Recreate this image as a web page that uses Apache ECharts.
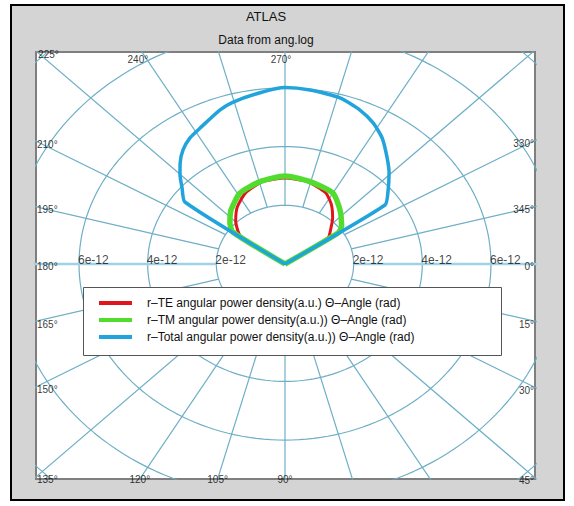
<!DOCTYPE html>
<html><head><meta charset="utf-8">
<script src="https://cdn.jsdelivr.net/npm/echarts@6/dist/echarts.min.js"></script>
<style>html,body{margin:0;padding:0;background:#fff;}#c{width:574px;height:506px;}</style>
</head><body><div id="c"></div>
<script>
// ---- data (angle in degrees, 0° right, 90° down; radius in a.u.) ----
const seriesNames = [
  'r–TE angular power density(a.u.) Θ–Angle (rad)',
  'r–TM angular power density(a.u.)) Θ–Angle (rad)',
  'r–Total angular power density(a.u.)) Θ–Angle (rad)'
];
const thetaTE = [180, 215.7, 225.8, 234.2, 244.6, 256.8, 270, 283.2, 296.0, 303.3, 311.1, 316.9, 324.7, 360];
const rTE     = [0, 1.58e-12, 2.06e-12, 2.38e-12, 2.68e-12, 2.88e-12, 2.93e-12, 2.88e-12, 2.70e-12, 2.45e-12, 2.11e-12, 1.84e-12, 1.53e-12, 0];
const thetaTM = [180, 215.7, 221.1, 229.5, 241.5, 255.4, 270, 284.6, 300.0, 311.0, 322.4, 325.6, 360];
const rTM     = [0, 1.87e-12, 2.13e-12, 2.42e-12, 2.75e-12, 2.90e-12, 3.00e-12, 2.90e-12, 2.79e-12, 2.44e-12, 2.08e-12, 1.87e-12, 0];
const thetaTotal = [180, 215.9, 220.8, 224.8, 228.4, 232.6, 237.2, 241.9, 250.2, 254.7, 262.9, 270, 277.0, 285.8, 292.6, 298.1, 303.4, 309.2, 314.3, 321.1, 325.4, 360];
const rTotal     = [0, 3.60e-12, 3.96e-12, 4.31e-12, 4.60e-12, 4.89e-12, 5.11e-12, 5.25e-12, 5.58e-12, 5.72e-12, 5.88e-12, 6.01e-12, 5.97e-12, 5.88e-12, 5.68e-12, 5.45e-12, 5.14e-12, 4.70e-12, 4.34e-12, 3.85e-12, 3.54e-12, 0];
const radiusTicks = [2e-12, 4e-12, 6e-12];
const radiusTickLabels = ['2e-12', '4e-12', '6e-12'];
const gridCircles = [2e-12, 4e-12, 6e-12, 8e-12, 10e-12];
const angleLabels = [225, 240, 270, 330, 345, 0, 15, 30, 45, 90, 105, 120, 135, 150, 165, 180, 195, 210];

// ---- view range ----
const X_MIN = -7.253e-12, X_MAX = 7.282e-12, Y_MIN = -7.325e-12, Y_MAX = 7.222e-12;
const FONT = "'Liberation Sans', Arial, sans-serif";
const GRID_COLOR = '#6eafc6';

function toXY(deg, r) { const a = deg * Math.PI / 180; return [r * Math.cos(a), -r * Math.sin(a)]; }
function polarSeries(thetas, rs) { return thetas.map((t, i) => toXY(t, rs[i])); }

const series = [];
gridCircles.forEach(r => {
  const pts = [];
  for (let k = 0; k <= 360; k += 2) pts.push(toXY(k, r));
  series.push({ type: 'line', data: pts, showSymbol: false, silent: true, z: 1,
    lineStyle: { color: GRID_COLOR, width: 1.2 } });
});
for (let a = 0; a < 360; a += 15) {
  const main = (a === 0 || a === 180);
  series.push({ type: 'line', data: [toXY(a, gridCircles[0]), toXY(a, 12e-12)], showSymbol: false, silent: true, z: 1,
    lineStyle: { color: main ? '#9fd2e6' : GRID_COLOR, width: main ? 2.5 : 1.2 } });
}
const colors = ['#e0161c', '#52dc2e', '#21a3dc'];
const widths = [3, 5.5, 3.5];
const dataSets = [polarSeries(thetaTE, rTE), polarSeries(thetaTM, rTM), polarSeries(thetaTotal, rTotal)];
[0, 1, 2].forEach(i => {
  series.push({ name: seriesNames[i], type: 'line', data: dataSets[i], showSymbol: false, z: 2, smooth: 0.2,
    lineStyle: { color: colors[i], width: widths[i] }, itemStyle: { color: colors[i] } });
});

// angle labels at box edge
function edgeHit(deg) {
  const a = deg * Math.PI / 180, dx = Math.cos(a), dy = -Math.sin(a);
  let t = Infinity, edge = '';
  if (dx > 1e-9 && X_MAX / dx < t) { t = X_MAX / dx; edge = 'right'; }
  if (dx < -1e-9 && X_MIN / dx < t) { t = X_MIN / dx; edge = 'left'; }
  if (dy > 1e-9 && Y_MAX / dy < t) { t = Y_MAX / dy; edge = 'top'; }
  if (dy < -1e-9 && Y_MIN / dy < t) { t = Y_MIN / dy; edge = 'bottom'; }
  return { x: dx * t, y: dy * t, edge };
}
const near = 0.4e-12;
const angleLabelData = angleLabels.map(deg => {
  const h = edgeHit(deg);
  let lab;
  if (h.edge === 'left') lab = { align: 'left', offset: [1, 3] };
  else if (h.edge === 'right') lab = { align: 'right', offset: [-1, 3] };
  else if (h.edge === 'top') lab = (h.x - X_MIN < near) ? { align: 'left', offset: [1, 2] } : { align: 'center', offset: [-4, 7] };
  else lab = { align: 'center', offset: [0, 0] };
  return { value: [h.x, h.y], name: deg + '°', label: lab };
});
series.push({ type: 'scatter', data: angleLabelData, symbolSize: 0, silent: true, clip: false, z: 6,
  label: { show: true, position: 'inside', formatter: p => p.name, verticalAlign: 'middle',
    fontFamily: FONT, fontSize: 10, color: '#000' } });

// radius labels along the 180°-0° line
const radLabelData = [];
radiusTicks.forEach((r, i) => {
  radLabelData.push({ value: [-r, 0], name: radiusTickLabels[i] });
  radLabelData.push({ value: [r, 0], name: radiusTickLabels[i] });
});
series.push({ type: 'scatter', data: radLabelData, symbolSize: 0, silent: true, clip: false, z: 6,
  label: { show: true, position: 'inside', formatter: p => p.name, align: 'left', verticalAlign: 'middle',
    offset: [-1, -4], fontFamily: FONT, fontSize: 12, color: '#111' } });

const chart = echarts.init(document.getElementById('c'), null, { renderer: 'svg' });
chart.setOption({
  animation: false,
  backgroundColor: '#fff',
  title: {
    text: 'ATLAS', subtext: 'Data from ang.log', left: 266, top: 10, textAlign: 'center', padding: 0, itemGap: 11,
    textStyle: { fontFamily: FONT, fontSize: 13, fontWeight: 'normal', color: '#111' },
    subtextStyle: { fontFamily: FONT, fontSize: 12, color: '#111' }
  },
  grid: { left: 36, right: 39, top: 52, bottom: 27, show: true, backgroundColor: '#fff', borderColor: '#7f7f7f', borderWidth: 2 },
  xAxis: { type: 'value', min: X_MIN, max: X_MAX, show: false, splitLine: { show: false } },
  yAxis: { type: 'value', min: Y_MIN, max: Y_MAX, show: false, splitLine: { show: false } },
  legend: {
    data: seriesNames.map(n => ({ name: n, icon: 'rect' })),
    orient: 'vertical', left: 99, top: 296, padding: 0, itemGap: 3, itemWidth: 33, itemHeight: 4, z: 8,
    selectedMode: false,
    textStyle: { fontFamily: FONT, fontSize: 12, lineHeight: 14, color: '#111', padding: [0, 0, 0, 10] }
  },
  graphic: [
    { type: 'rect', z: -100, shape: { x: 11, y: 5, width: 553, height: 495 },
      style: { fill: '#d4d4d4', stroke: '#000', lineWidth: 2 } },
    { type: 'rect', z: 7, shape: { x: 83.5, y: 287.5, width: 418, height: 68 },
      style: { fill: '#fff', stroke: '#555', lineWidth: 1 } }
  ],
  series
});
</script></body></html>
